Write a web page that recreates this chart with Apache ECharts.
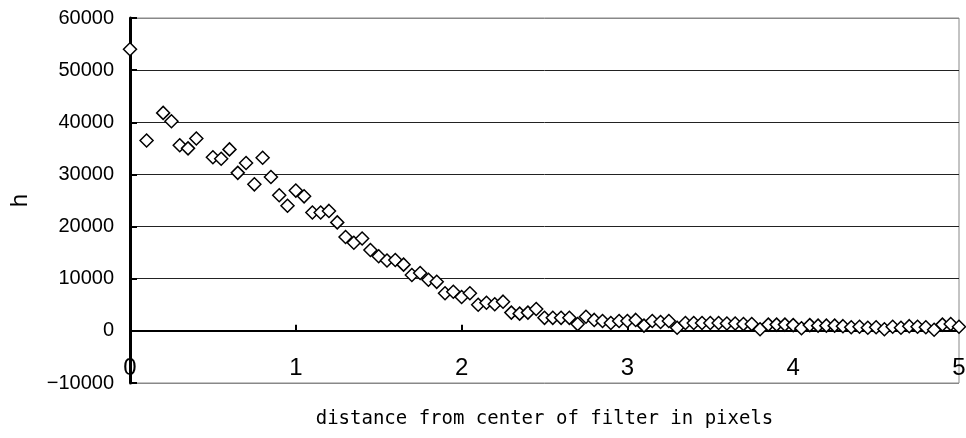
<!DOCTYPE html>
<html>
<head>
<meta charset="utf-8">
<script src="https://cdn.jsdelivr.net/npm/echarts@6/dist/echarts.min.js"></script>
<style>
html,body{margin:0;padding:0;background:#fff;}
#chart{width:966px;height:438px;}
</style>
</head>
<body>
<div id="chart"></div>
<script>
var xTitle = 'distance from center of filter in pixels';
var yTitle = 'h';
var distances = [0, 0.1, 0.2, 0.25, 0.3, 0.35, 0.4, 0.5, 0.55, 0.6, 0.65, 0.7, 0.75, 0.8, 0.85, 0.9, 0.95,
  1.0, 1.05, 1.1, 1.15, 1.2, 1.25, 1.3, 1.35, 1.4, 1.45, 1.5, 1.55, 1.6, 1.65, 1.7, 1.75, 1.8, 1.85, 1.9, 1.95,
  2.0, 2.05, 2.1, 2.15, 2.2, 2.25, 2.3, 2.35, 2.4, 2.45, 2.5, 2.55, 2.6, 2.65, 2.7, 2.75, 2.8, 2.85, 2.9, 2.95,
  3.0, 3.05, 3.1, 3.15, 3.2, 3.25, 3.3, 3.35, 3.4, 3.45, 3.5, 3.55, 3.6, 3.65, 3.7, 3.75, 3.8, 3.85, 3.9, 3.95,
  4.0, 4.05, 4.1, 4.15, 4.2, 4.25, 4.3, 4.35, 4.4, 4.45, 4.5, 4.55, 4.6, 4.65, 4.7, 4.75, 4.8, 4.85, 4.9, 4.95, 5.0];
var hValues = [54000, 36500, 41800, 40200, 35600, 35000, 36900, 33300, 33000, 34800, 30300, 32200, 28100, 33200, 29500, 26000, 24000,
  26900, 25800, 22700, 22700, 23000, 20800, 18000, 16900, 17700, 15500, 14300, 13500, 13600, 12700, 10700, 11100, 9800, 9400, 7200, 7500,
  6500, 7200, 5000, 5400, 5100, 5600, 3500, 3300, 3500, 4200, 2500, 2500, 2500, 2500, 1300, 2700, 2100, 1900, 1500, 1900,
  1900, 2100, 1000, 1900, 1700, 1900, 600, 1500, 1500, 1500, 1500, 1500, 1400, 1400, 1300, 1300, 300, 1200, 1200, 1200,
  1100, 500, 1100, 1000, 1000, 1000, 900, 700, 800, 600, 700, 300, 800, 600, 900, 800, 700, 200, 1200, 1300, 800];

var points = distances.map(function (d, i) { return [d, hValues[i]]; });

var chart = echarts.init(document.getElementById('chart'));
chart.setOption({
  animation: false,
  backgroundColor: '#fff',
  grid: { left: 130, right: 7, top: 18, bottom: 55, show: true, borderColor: '#888', borderWidth: 1,
          containLabel: false, outerBoundsMode: 'none' },
  xAxis: {
    type: 'value', min: 0, max: 5, interval: 1,
    name: xTitle, nameLocation: 'middle', nameGap: 27,
    nameTextStyle: { fontFamily: 'DejaVu Sans Mono', fontSize: 19, color: '#000' },
    axisLine: { onZero: true, lineStyle: { color: '#000', width: 2 } },
    axisTick: { show: true, inside: true, length: 6, lineStyle: { color: '#000', width: 2 } },
    axisLabel: { margin: -27, fontFamily: 'Liberation Sans Narrow, Liberation Sans', fontSize: 24, color: '#000' },
    splitLine: { show: false }
  },
  yAxis: {
    type: 'value', min: -10000, max: 60000, interval: 10000,
    name: yTitle, nameLocation: 'middle', nameGap: 98,
    nameTextStyle: { fontFamily: 'Liberation Sans', fontSize: 24, color: '#000' },
    axisLine: { show: true, lineStyle: { color: '#000', width: 3 } },
    axisTick: { show: true, inside: true, length: 7, lineStyle: { color: '#000', width: 2 } },
    axisLabel: { margin: 16, fontFamily: 'Liberation Sans', fontSize: 20, color: '#000',
      formatter: function (v) { return v < 0 ? '\u2212' + String(-v) : String(v); } },
    splitLine: { show: true, lineStyle: { color: ['#888', '#000', '#222', '#222', '#222', '#222', '#222', '#888'], width: 1 } }
  },
  series: [{
    type: 'scatter',
    data: points,
    symbol: 'diamond',
    symbolSize: 13,
    itemStyle: { color: '#fff', borderColor: '#000', borderWidth: 1.5, opacity: 1 },
    z: 5
  }]
});
</script>
</body>
</html>
